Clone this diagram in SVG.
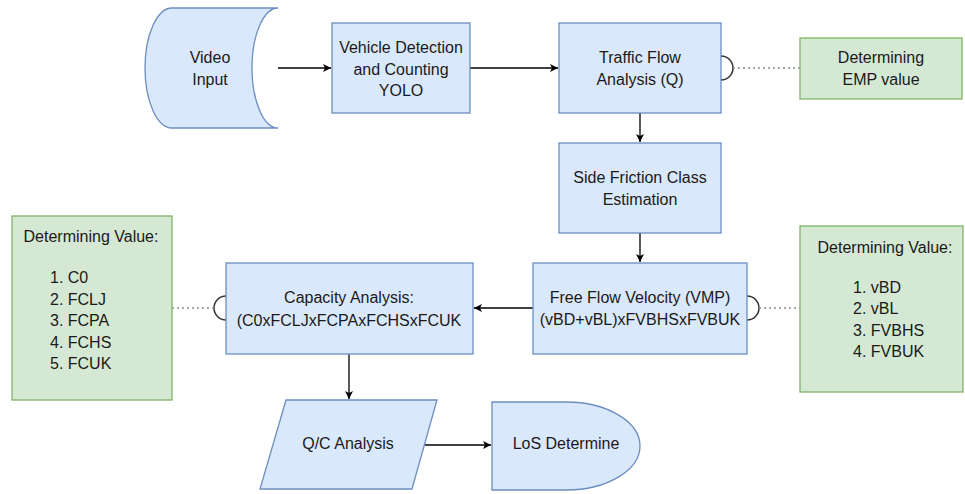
<svg xmlns="http://www.w3.org/2000/svg" width="965" height="494" viewBox="0 0 965 494">
<defs>
<marker id="arr" markerWidth="10" markerHeight="10" refX="9" refY="5" orient="auto" markerUnits="userSpaceOnUse">
<path d="M1,1 L9,5 L1,9 L3,5 Z" fill="#000"/>
</marker>
<style>
.b{fill:#dae8fc;stroke:#6c8ebf;stroke-width:1.3}
.g{fill:#d5e8d4;stroke:#82b366;stroke-width:1.3}
text{font-family:"Liberation Sans",Arial,sans-serif;font-size:16px;fill:#1a1a1a}
.c{text-anchor:middle}
.e{fill:none;stroke:#000;stroke-width:1.3}
.d{fill:none;stroke:#8c8c8c;stroke-width:1.3;stroke-dasharray:2 3}
.h{fill:none;stroke:#333;stroke-width:1.5}
</style>
</defs>
<rect width="965" height="494" fill="#fff"/>
<g id="connectors">
<line class="e" x1="278" y1="68" x2="331" y2="68" marker-end="url(#arr)"/>
<line class="e" x1="470" y1="68" x2="558" y2="68" marker-end="url(#arr)"/>
<line class="e" x1="640" y1="113" x2="640" y2="142" marker-end="url(#arr)"/>
<line class="e" x1="640" y1="233" x2="640" y2="262" marker-end="url(#arr)"/>
<line class="e" x1="533" y1="308" x2="474" y2="308" marker-end="url(#arr)"/>
<line class="e" x1="349" y1="354" x2="349" y2="399" marker-end="url(#arr)"/>
<line class="e" x1="425" y1="445" x2="491" y2="445" marker-end="url(#arr)"/>
<path class="h" d="M721,56 A12,12 0 0 1 721,80"/>
<line class="d" x1="733" y1="68" x2="800" y2="68"/>
<path class="h" d="M747,296 A12,12 0 0 1 747,320"/>
<line class="d" x1="759" y1="308" x2="800" y2="308"/>
<path class="h" d="M226,296 A12,12 0 0 0 226,320"/>
<line class="d" x1="214" y1="308" x2="172" y2="308"/>
</g>
<g id="video">
<path class="b" d="M172,8 L278,8 A26,60 0 0 0 278,128 L172,128 A27,60 0 0 1 172,8 Z"/>
<text class="c" x="210" y="63">Video</text>
<text class="c" x="210" y="85">Input</text>
</g>
<g id="detect">
<rect class="b" x="332" y="23" width="138" height="90"/>
<text class="c" x="401" y="53">Vehicle Detection</text>
<text class="c" x="401" y="75">and Counting</text>
<text class="c" x="401" y="96">YOLO</text>
</g>
<g id="traffic">
<rect class="b" x="559" y="23" width="162" height="90"/>
<text class="c" x="640" y="63">Traffic Flow</text>
<text class="c" x="640" y="85">Analysis (Q)</text>
</g>
<g id="emp">
<rect class="g" x="800" y="38" width="162" height="61"/>
<text class="c" x="881" y="63">Determining</text>
<text class="c" x="881" y="85">EMP value</text>
</g>
<g id="side">
<rect class="b" x="559" y="143" width="162" height="90"/>
<text class="c" x="640" y="183">Side Friction Class</text>
<text class="c" x="640" y="205">Estimation</text>
</g>
<g id="freeflow">
<rect class="b" x="533" y="263" width="214" height="91"/>
<text class="c" x="640" y="303">Free Flow Velocity (VMP)</text>
<text class="c" x="640" y="325">(vBD+vBL)xFVBHSxFVBUK</text>
</g>
<g id="rightvals">
<rect class="g" x="800" y="226" width="163" height="166"/>
<text class="c" x="885" y="252.5">Determining Value:</text>
<text x="853" y="293">1. vBD</text>
<text x="853" y="314">2. vBL</text>
<text x="853" y="335.5">3. FVBHS</text>
<text x="853" y="357">4. FVBUK</text>
</g>
<g id="capacity">
<rect class="b" x="226" y="263" width="247" height="91"/>
<text class="c" x="349" y="303">Capacity Analysis:</text>
<text class="c" x="349" y="326">(C0xFCLJxFCPAxFCHSxFCUK</text>
</g>
<g id="leftvals">
<rect class="g" x="12" y="216" width="160" height="184"/>
<text class="c" x="91" y="241.5">Determining Value:</text>
<text x="50" y="283">1. C0</text>
<text x="50" y="304.5">2. FCLJ</text>
<text x="50" y="326">3. FCPA</text>
<text x="50" y="347.5">4. FCHS</text>
<text x="50" y="369">5. FCUK</text>
</g>
<g id="qc">
<path class="b" d="M286,400 L437,400 L412,489 L260,489 Z"/>
<text class="c" x="348" y="449">Q/C Analysis</text>
</g>
<g id="los">
<path class="b" d="M492,402 L566,402 A74,44 0 0 1 566,490 L492,490 Z"/>
<text class="c" x="566" y="449">LoS Determine</text>
</g>
</svg>
